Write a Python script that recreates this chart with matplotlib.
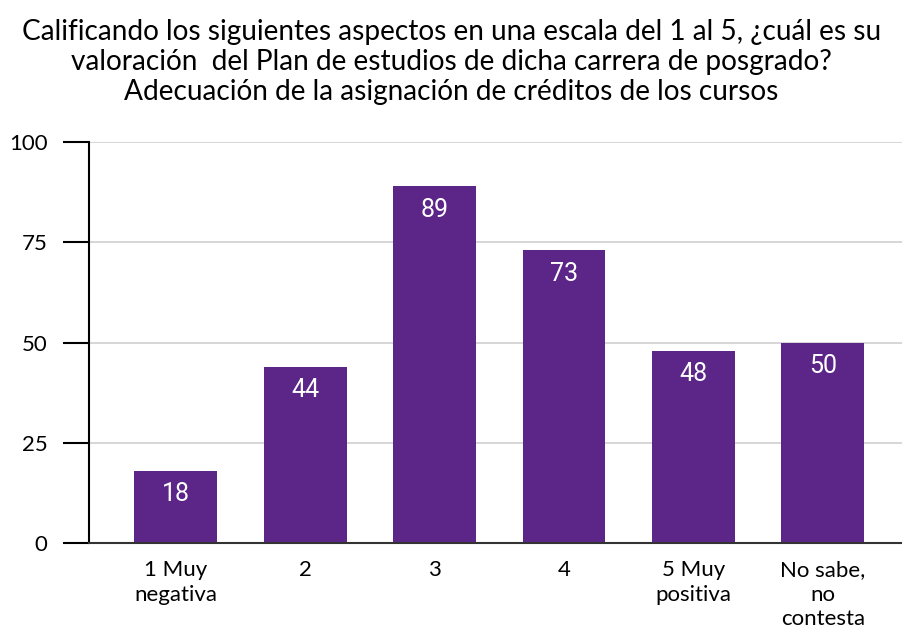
import matplotlib.pyplot as plt

categories = ["1 Muy\nnegativa", "2", "3", "4", "5 Muy\npositiva", "No sabe,\nno\ncontesta"]
values = [18, 44, 89, 73, 48, 50]
yticks = [0, 25, 50, 75, 100]
title = ("Calificando los siguientes aspectos en una escala del 1 al 5, ¿cuál es su\n"
         "valoración  del Plan de estudios de dicha carrera de posgrado?\n"
         "Adecuación de la asignación de créditos de los cursos")

plt.rcParams['font.family'] = ['Lato', 'DejaVu Sans']

fig = plt.figure(figsize=(9.03, 6.3), dpi=100)
ax = fig.add_axes([0.0986, 0.138, 0.9014, 0.6365])

x = list(range(len(values)))
bars = ax.bar(x, values, width=0.64, color="#5c2689", zorder=3)
for xi, v in zip(x, values):
    ax.annotate(str(v), (xi, v), xytext=(0, -17), textcoords="offset points",
                ha="center", va="center", color="white", fontsize=18, family="Roboto", zorder=4)

ax.set_xlim(-0.67, 5.62)
ax.set_ylim(0, 100)
ax.set_yticks(yticks)
ax.set_xticks(x)
ax.set_xticklabels(categories, fontsize=16, linespacing=1.3)
ax.tick_params(axis="x", length=0, pad=12)
ax.tick_params(axis="y", length=19, width=1.5, labelsize=16, pad=11)
ax.grid(axis="y", color="#d0d0d0", linewidth=1.2, zorder=0)
for s in ["top", "right"]:
    ax.spines[s].set_visible(False)
ax.spines["left"].set_linewidth(1.5)
ax.spines["bottom"].set_color("#333333")
ax.spines["bottom"].set_linewidth(1.5)
ax.spines["bottom"].set_zorder(5)

fig.text(0.5, 0.97, title, ha="center", va="top", fontsize=20.2, linespacing=1.2)

fig.savefig("out.png", dpi=100)
